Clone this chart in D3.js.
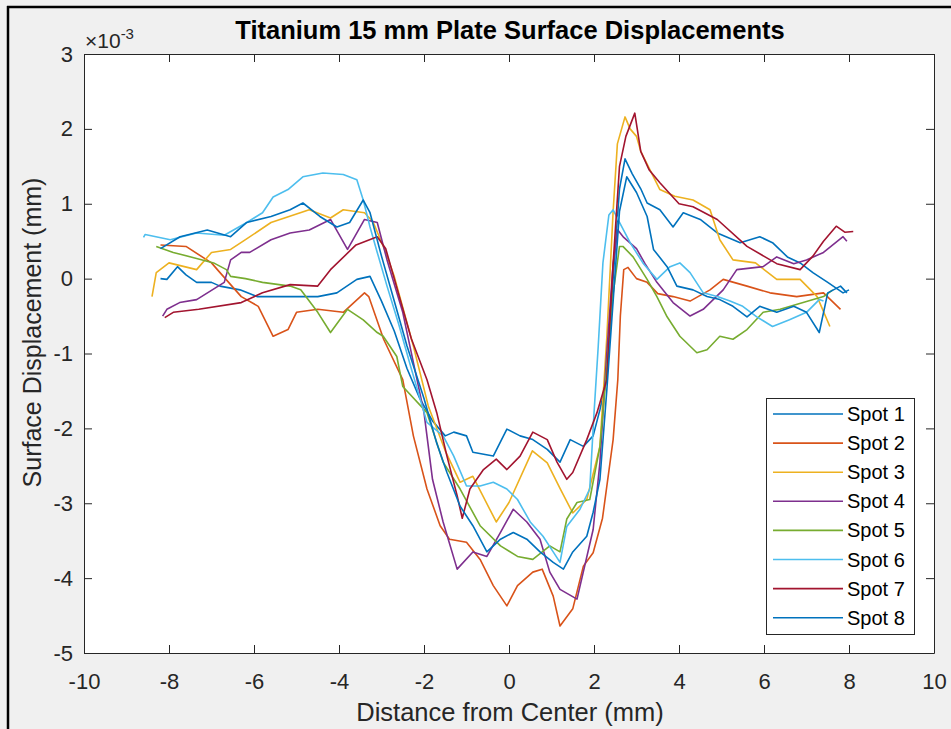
<!DOCTYPE html>
<html>
<head>
<meta charset="utf-8">
<script src="https://cdn.jsdelivr.net/npm/d3@7"></script>
<style>
  body { margin: 0; background: #f0f0f0; }
  svg { display: block; }
  text { font-family: "Liberation Sans", Arial, Helvetica, sans-serif; }
</style>
</head>
<body>
<svg id="chart" width="951" height="729"></svg>
<script>
// ---------------- data (x in mm, y in 1e-3 mm) ----------------
const seriesNames = ["Spot 1", "Spot 2", "Spot 3", "Spot 4", "Spot 5", "Spot 6", "Spot 7", "Spot 8"];
const seriesColors = ["#0072BD", "#D95319", "#EDB120", "#7E2F8E", "#77AC30", "#4DBEEE", "#A2142F", "#0072BD"];

const spot1 = [[-8.2,0.0],[-8.05,-0.01],[-7.8,0.16],[-7.6,0.05],[-7.35,-0.05],[-7.0,-0.05],[-6.8,-0.1],[-6.33,-0.15],[-5.93,-0.24],[-5.4,-0.24],[-5.0,-0.24],[-4.5,-0.24],[-4.05,-0.19],[-3.58,-0.01],[-3.27,0.03],[-3.0,-0.3],[-2.7,-0.7],[-2.4,-1.2],[-2.1,-1.6],[-1.8,-1.9],[-1.5,-2.1],[-1.3,-2.05],[-1.0,-2.1],[-0.85,-2.32],[-0.37,-2.37],[-0.05,-2.01],[0.26,-2.1],[0.56,-2.15],[0.9,-2.28],[1.2,-2.45],[1.44,-2.15],[1.75,-2.24],[1.98,-2.1],[2.14,-1.75],[2.3,-1.35],[2.45,0.0],[2.6,1.2],[2.73,1.6],[2.9,1.4],[3.1,1.2],[3.25,1.01],[3.55,0.92],[3.86,0.69],[4.1,0.88],[4.5,0.79],[4.9,0.61],[5.44,0.48],[5.9,0.56],[6.2,0.48],[6.55,0.29],[6.85,0.21],[7.15,0.08],[7.5,-0.05],[7.86,-0.19],[8.0,-0.15]];
const spot2 = [[-8.2,0.45],[-7.6,0.43],[-7.0,0.21],[-6.8,0.08],[-6.3,-0.24],[-5.9,-0.37],[-5.55,-0.77],[-5.2,-0.68],[-5.0,-0.45],[-4.5,-0.41],[-3.9,-0.45],[-3.4,-0.19],[-3.3,-0.24],[-2.95,-0.81],[-2.5,-1.35],[-2.25,-2.1],[-1.93,-2.81],[-1.62,-3.3],[-1.4,-3.48],[-1.0,-3.52],[-0.68,-3.75],[-0.37,-4.1],[-0.05,-4.37],[0.2,-4.1],[0.56,-3.92],[0.78,-3.88],[1.04,-4.24],[1.2,-4.64],[1.5,-4.41],[1.75,-3.84],[1.98,-3.66],[2.2,-3.2],[2.45,-2.15],[2.56,-1.35],[2.62,-0.5],[2.7,0.12],[2.8,0.15],[3.0,0.0],[3.25,-0.05],[3.5,-0.2],[3.86,-0.24],[4.26,-0.3],[4.73,-0.15],[5.04,-0.01],[5.6,-0.1],[6.14,-0.19],[6.77,-0.24],[7.4,-0.19],[7.8,-0.41]];
const spot3 = [[-8.4,-0.24],[-8.3,0.08],[-8.0,0.21],[-7.35,0.12],[-7.0,0.35],[-6.55,0.39],[-6.2,0.52],[-5.6,0.75],[-4.7,0.92],[-4.2,0.81],[-3.9,0.92],[-3.4,0.88],[-3.2,0.76],[-2.9,0.35],[-2.7,0.03],[-2.25,-0.9],[-1.9,-1.7],[-1.5,-2.3],[-1.15,-2.72],[-0.85,-2.64],[-0.3,-3.25],[0.0,-2.99],[0.55,-2.3],[0.9,-2.46],[1.2,-2.8],[1.5,-3.13],[1.83,-2.95],[2.14,-2.24],[2.3,-0.8],[2.45,0.9],[2.55,1.8],[2.73,2.16],[2.85,2.0],[3.0,1.9],[3.1,1.7],[3.55,1.19],[3.9,1.1],[4.33,1.05],[4.73,0.92],[4.96,0.52],[5.27,0.25],[5.8,0.21],[6.3,-0.01],[6.85,-0.01],[7.25,-0.24],[7.55,-0.64]];
const spot4 = [[-8.15,-0.5],[-8.05,-0.41],[-7.75,-0.32],[-7.35,-0.28],[-6.7,-0.05],[-6.55,0.25],[-6.3,0.35],[-6.1,0.35],[-5.6,0.52],[-5.15,0.61],[-4.7,0.65],[-4.2,0.79],[-3.8,0.39],[-3.4,0.79],[-3.1,0.75],[-2.87,0.25],[-2.5,-0.45],[-2.0,-1.79],[-1.8,-2.68],[-1.55,-3.25],[-1.22,-3.88],[-0.85,-3.65],[-0.52,-3.71],[-0.2,-3.39],[0.1,-3.08],[0.42,-3.25],[0.73,-3.48],[0.96,-3.92],[1.2,-4.15],[1.6,-4.28],[1.98,-3.35],[2.14,-2.45],[2.3,-1.0],[2.45,0.2],[2.56,0.65],[2.7,0.55],[3.0,0.4],[3.2,0.2],[3.48,-0.05],[3.86,-0.32],[4.26,-0.5],[4.57,-0.41],[5.04,-0.15],[5.36,0.12],[5.98,0.16],[6.3,0.29],[6.7,0.2],[7.0,0.25],[7.4,0.35],[7.86,0.56],[7.95,0.5]];
const spot5 = [[-8.3,0.43],[-7.9,0.35],[-7.35,0.27],[-6.95,0.21],[-6.65,0.12],[-6.55,0.03],[-6.2,0.0],[-5.8,-0.05],[-5.15,-0.1],[-4.9,-0.15],[-4.5,-0.45],[-4.2,-0.72],[-3.8,-0.41],[-3.43,-0.55],[-3.1,-0.72],[-2.96,-0.77],[-2.64,-1.04],[-2.5,-1.44],[-1.93,-1.79],[-1.55,-2.45],[-1.15,-2.81],[-0.68,-3.3],[-0.2,-3.57],[0.2,-3.71],[0.56,-3.75],[0.96,-3.57],[1.2,-3.65],[1.36,-3.21],[1.6,-2.99],[1.9,-2.95],[2.14,-2.24],[2.3,-1.2],[2.45,-0.2],[2.6,0.43],[2.68,0.43],[2.92,0.29],[3.25,-0.01],[3.48,-0.24],[3.72,-0.51],[4.02,-0.77],[4.42,-0.99],[4.66,-0.95],[4.96,-0.77],[5.27,-0.81],[5.6,-0.68],[5.98,-0.45],[6.38,-0.41],[6.92,-0.32],[7.4,-0.24],[7.62,-0.15]];
const spot6 = [[-8.6,0.55],[-8.56,0.59],[-7.97,0.52],[-7.35,0.61],[-6.7,0.58],[-6.17,0.75],[-5.8,0.88],[-5.55,1.09],[-5.2,1.19],[-4.85,1.36],[-4.38,1.41],[-3.9,1.39],[-3.58,1.32],[-3.43,1.05],[-3.27,0.69],[-3.1,0.35],[-2.87,-0.1],[-2.6,-0.6],[-2.3,-1.2],[-1.93,-1.92],[-1.55,-2.1],[-1.3,-2.37],[-1.0,-2.77],[-0.68,-2.77],[-0.37,-2.72],[-0.05,-2.81],[0.2,-2.95],[0.5,-3.25],[0.8,-3.44],[1.04,-3.65],[1.2,-3.79],[1.36,-3.31],[1.67,-3.08],[1.9,-2.81],[2.0,-1.8],[2.1,-0.9],[2.21,0.21],[2.35,0.85],[2.45,0.92],[2.6,0.75],[2.85,0.48],[3.15,0.21],[3.48,-0.01],[3.79,0.16],[4.02,0.21],[4.26,0.08],[4.57,-0.19],[4.9,-0.24],[5.2,-0.3],[5.5,-0.37],[5.83,-0.51],[6.2,-0.64],[6.6,-0.55],[7.0,-0.45],[7.3,-0.28],[7.4,-0.3]];
const spot7 = [[-8.1,-0.52],[-7.9,-0.45],[-7.3,-0.41],[-6.3,-0.32],[-5.8,-0.19],[-5.15,-0.08],[-4.5,-0.1],[-4.2,0.12],[-3.6,0.45],[-3.1,0.56],[-2.9,0.4],[-2.6,-0.2],[-2.3,-0.8],[-1.93,-1.35],[-1.7,-1.79],[-1.46,-2.37],[-1.22,-2.9],[-1.1,-3.2],[-0.92,-2.81],[-0.6,-2.55],[-0.3,-2.41],[-0.05,-2.55],[0.26,-2.37],[0.56,-2.05],[0.9,-2.15],[1.13,-2.45],[1.36,-2.68],[1.5,-2.59],[1.83,-2.15],[2.07,-1.79],[2.3,-1.35],[2.45,0.2],[2.6,1.5],[2.75,1.9],[2.96,2.21],[3.1,1.7],[3.3,1.45],[3.55,1.28],[4.0,1.0],[4.33,0.96],[4.9,0.79],[5.6,0.43],[6.3,0.2],[6.85,0.12],[7.15,0.3],[7.4,0.5],[7.7,0.7],[7.9,0.62],[8.1,0.63]];
const spot8 = [[-8.2,0.4],[-7.74,0.56],[-7.1,0.65],[-6.55,0.56],[-6.17,0.75],[-5.6,0.83],[-5.15,0.92],[-4.85,1.01],[-4.45,0.83],[-4.05,0.69],[-3.75,0.75],[-3.43,1.05],[-3.27,0.88],[-3.0,0.3],[-2.7,-0.3],[-2.4,-0.9],[-2.0,-1.6],[-1.7,-2.2],[-1.46,-2.59],[-1.15,-3.04],[-0.85,-3.3],[-0.52,-3.65],[-0.2,-3.48],[0.1,-3.39],[0.42,-3.48],[0.73,-3.65],[1.04,-3.79],[1.28,-3.88],[1.5,-3.65],[1.83,-3.44],[1.98,-3.12],[2.14,-2.68],[2.3,-1.5],[2.45,-0.3],[2.6,0.9],[2.77,1.36],[3.0,1.15],[3.25,0.83],[3.4,0.39],[3.72,0.16],[3.95,-0.1],[4.33,-0.15],[4.66,-0.24],[4.96,-0.28],[5.27,-0.37],[5.6,-0.51],[5.9,-0.37],[6.3,-0.45],[6.7,-0.37],[7.0,-0.45],[7.3,-0.72],[7.5,-0.19],[7.8,-0.1],[7.95,-0.19]];

const xTicks = [-10, -8, -6, -4, -2, 0, 2, 4, 6, 8, 10];
const yTicks = [-5, -4, -3, -2, -1, 0, 1, 2, 3];
const xDomain = [-10, 10];
const yDomain = [-5, 3];
const titleText = "Titanium 15 mm Plate Surface Displacements";
const xLabelText = "Distance from Center (mm)";
const yLabelText = "Surface Displacement (mm)";

// ---------------- drawing ----------------
const allSeries = [spot1, spot2, spot3, spot4, spot5, spot6, spot7, spot8];
const svg = d3.select("#chart");
const W = 951, H = 729;
const m = { left: 84, right: 934, top: 54, bottom: 653 };
const axisColor = "#262626";

// figure background and frame
svg.append("rect").attr("x", 0).attr("y", 0).attr("width", W).attr("height", H).attr("fill", "#f0f0f0");
svg.append("line").attr("x1", 8).attr("x2", 8).attr("y1", 6).attr("y2", H).attr("stroke", "#000").attr("stroke-width", 2.5);
svg.append("line").attr("x1", 7).attr("x2", W).attr("y1", 7).attr("y2", 7).attr("stroke", "#000").attr("stroke-width", 2.5);

const x = d3.scaleLinear().domain(xDomain).range([m.left, m.right]);
const y = d3.scaleLinear().domain(yDomain).range([m.bottom, m.top]);

svg.append("rect").attr("x", m.left).attr("y", m.top)
  .attr("width", m.right - m.left).attr("height", m.bottom - m.top).attr("fill", "#fff");

svg.append("clipPath").attr("id", "clip").append("rect")
  .attr("x", m.left).attr("y", m.top).attr("width", m.right - m.left).attr("height", m.bottom - m.top);

const line = d3.line().x(d => x(d[0])).y(d => y(d[1]));
const plot = svg.append("g").attr("clip-path", "url(#clip)");
allSeries.forEach((s, i) => {
  plot.append("path").datum(s).attr("d", line)
    .attr("fill", "none").attr("stroke", seriesColors[i])
    .attr("stroke-width", 1.6).attr("stroke-linejoin", "round");
});

// axes
function styleAxis(g) {
  g.selectAll("path.domain").attr("stroke", axisColor).attr("stroke-width", 1);
  g.selectAll(".tick line").attr("stroke", axisColor).attr("stroke-width", 1);
  g.selectAll(".tick text").attr("fill", axisColor).attr("font-size", 22)
    .attr("font-family", "'Liberation Sans', Arial, sans-serif");
}
const fmt = d => d3.format("")(d).replace("−", "-");
svg.append("g").attr("transform", `translate(0,${m.bottom})`)
  .call(d3.axisBottom(x).tickValues(xTicks).tickFormat(fmt).tickSizeInner(-8).tickSizeOuter(0).tickPadding(20))
  .call(styleAxis);
svg.append("g").attr("transform", `translate(0,${m.top})`)
  .call(d3.axisTop(x).tickValues(xTicks).tickFormat("").tickSizeInner(-8).tickSizeOuter(0))
  .call(styleAxis);
svg.append("g").attr("transform", `translate(${m.left},0)`)
  .call(d3.axisLeft(y).tickValues(yTicks).tickFormat(fmt).tickSizeInner(-8).tickSizeOuter(0).tickPadding(11))
  .call(styleAxis);
svg.append("g").attr("transform", `translate(${m.right},0)`)
  .call(d3.axisRight(y).tickValues(yTicks).tickFormat("").tickSizeInner(-8).tickSizeOuter(0))
  .call(styleAxis);

// exponent
const ex = svg.append("text").attr("x", 85).attr("y", 48).attr("fill", axisColor).attr("font-size", 21);
ex.append("tspan").text("×10");
ex.append("tspan").attr("dy", -9).attr("font-size", 15).text("-3");

// title and labels
svg.append("text").attr("x", 510).attr("y", 39).attr("text-anchor", "middle")
  .attr("font-weight", "bold").attr("font-size", 25.5).attr("fill", "#000").text(titleText);
svg.append("text").attr("x", 510).attr("y", 721).attr("text-anchor", "middle")
  .attr("font-size", 25.5).attr("fill", axisColor).text(xLabelText);
svg.append("text").attr("transform", `translate(41,${(m.top + m.bottom) / 2 - 21}) rotate(-90)`)
  .attr("text-anchor", "middle").attr("font-size", 25).attr("fill", axisColor).text(yLabelText);

// legend
const lg = svg.append("g");
lg.append("rect").attr("x", 766.5).attr("y", 398.5).attr("width", 148).attr("height", 236)
  .attr("fill", "#fff").attr("stroke", axisColor).attr("stroke-width", 1);
seriesNames.forEach((name, i) => {
  const yy = 414 + i * 29.1;
  lg.append("line").attr("x1", 773).attr("x2", 843).attr("y1", yy).attr("y2", yy)
    .attr("stroke", seriesColors[i]).attr("stroke-width", 1.6);
  lg.append("text").attr("x", 847).attr("y", yy + 7).attr("font-size", 20).attr("fill", "#000").text(name);
});
</script>
</body>
</html>
